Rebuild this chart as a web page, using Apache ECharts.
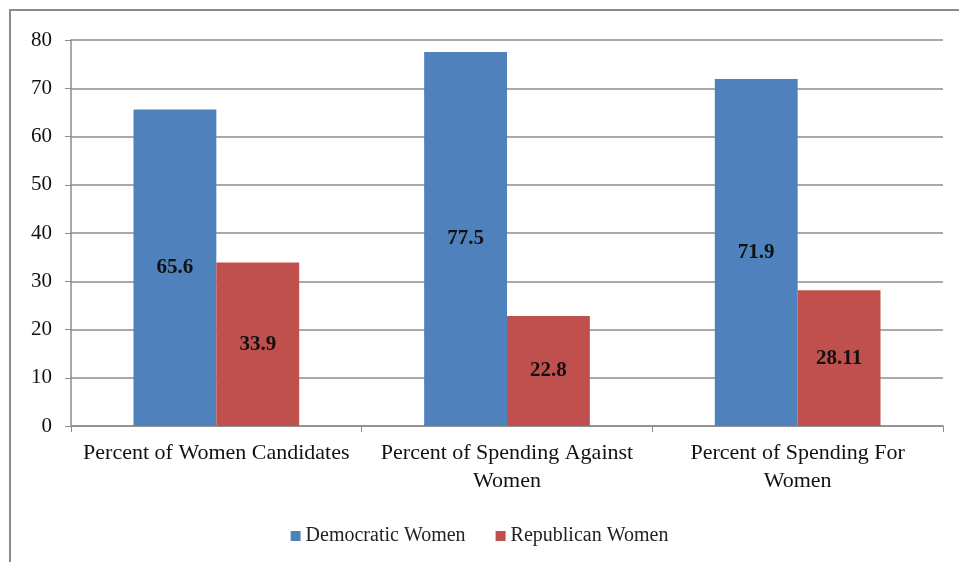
<!DOCTYPE html>
<html><head><meta charset="utf-8">
<script src="https://cdn.jsdelivr.net/npm/echarts@6/dist/echarts.min.js"></script>
<style>html,body{margin:0;padding:0;background:#fff}#c{width:959px;height:562px}</style>
</head><body><div id="c"></div>
<script>
const categories = ["Percent of Women Candidates", "Percent of Spending Against\nWomen", "Percent of Spending For\nWomen"];
const democratic = [65.6, 77.5, 71.9];
const republican = [33.9, 22.8, 28.11];
const seriesNames = ["Democratic Women", "Republican Women"];
const yTicks = [0, 10, 20, 30, 40, 50, 60, 70, 80];

const font = "'Liberation Serif', 'DejaVu Serif', serif";
const chart = echarts.init(document.getElementById('c'));
chart.setOption({
  animation: false,
  textStyle: { fontFamily: font },
  graphic: [{ type: 'rect', shape: { x: 10, y: 10, width: 1000, height: 600 }, style: { fill: 'none', stroke: '#8c8c8c', lineWidth: 2 } }],
  grid: { left: 71, right: 16, top: 40, bottom: 136 },
  legend: {
    top: 521, left: 'center', itemWidth: 10, itemHeight: 10, itemGap: 30, icon: 'rect',
    textStyle: { fontFamily: font, fontSize: 20, color: '#222', padding: [0, 0, 0, 0] },
    data: seriesNames
  },
  xAxis: {
    type: 'category', data: categories,
    axisLine: { lineStyle: { color: '#8c8c8c', width: 1.5 } },
    axisTick: { show: true, length: 6, lineStyle: { color: '#8c8c8c' }, alignWithLabel: false },
    axisLabel: { fontFamily: font, fontSize: 22, color: '#111', margin: 13, lineHeight: 28, interval: 0 }
  },
  yAxis: {
    type: 'value', min: yTicks[0], max: yTicks[yTicks.length - 1], interval: 10,
    axisLine: { show: true, lineStyle: { color: '#8c8c8c', width: 1.5 } },
    axisTick: { show: true, length: 6, lineStyle: { color: '#8c8c8c' } },
    axisLabel: { fontFamily: font, fontSize: 21, color: '#111', margin: 19 },
    splitLine: { lineStyle: { color: '#8c8c8c', width: 1.5 } }
  },
  series: [
    { name: seriesNames[0], type: 'bar', data: democratic, barGap: '0%', barCategoryGap: '43%',
      itemStyle: { color: '#4F81BD' },
      label: { show: true, position: 'inside', fontFamily: font, fontSize: 21, fontWeight: 'bold', color: '#111' } },
    { name: seriesNames[1], type: 'bar', data: republican,
      itemStyle: { color: '#C0504D' },
      label: { show: true, position: 'inside', fontFamily: font, fontSize: 21, fontWeight: 'bold', color: '#111' } }
  ]
});
</script></body></html>
